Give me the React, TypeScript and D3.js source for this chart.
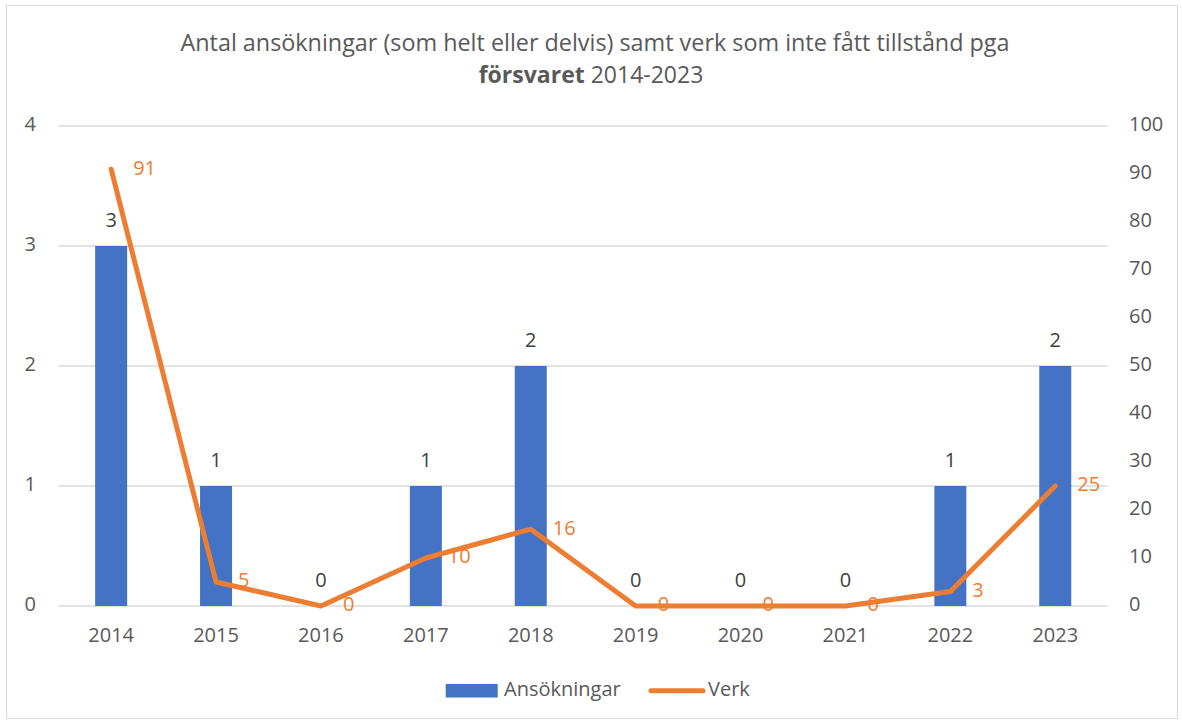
import React from "react";
import * as d3 from "d3";

const years = ["2014", "2015", "2016", "2017", "2018", "2019", "2020", "2021", "2022", "2023"];
const ansokningar = [3, 1, 0, 1, 2, 0, 0, 0, 1, 2];
const verk = [91, 5, 0, 10, 16, 0, 0, 0, 3, 25];
const leftTicks = [0, 1, 2, 3, 4];
const rightTicks = [0, 10, 20, 30, 40, 50, 60, 70, 80, 90, 100];

const W = 1182;
const H = 724;
const FONT = "'Open Sans', 'Liberation Sans', sans-serif";
const TXT = "#595959";
const BLUE = "#4472C4";
const ORANGE = "#ED7D31";
const FS = 20;

export default function App() {
  const left = 58.7;
  const right = 1107.7;
  const top = 126;
  const bottom = 606;
  const x = d3.scaleBand<string>().domain(years).range([left, right]).paddingInner(0).paddingOuter(0);
  const yL = d3.scaleLinear().domain([0, 4]).range([bottom, top]);
  const yR = d3.scaleLinear().domain([0, 100]).range([bottom, top]);
  const bw = 32;
  const cx = (y: string) => (x(y) as number) + x.bandwidth() / 2;
  const line = d3
    .line<number>()
    .x((_, i) => cx(years[i]))
    .y((d) => yR(d));

  return (
    <div style={{ position: "absolute", left: 0, top: 0 }}>
      <svg width={W} height={H} style={{ display: "block", background: "#fff" }} fontFamily={FONT}>
        <rect x={6.5} y={5.5} width={1171} height={713} fill="#fff" stroke="#d9d9d9" strokeWidth={1} />
        <text x={595} y={45} textAnchor="middle" dominantBaseline="middle" fontSize={23} fill={TXT} textLength={829} lengthAdjust="spacingAndGlyphs">
          Antal ansökningar (som helt eller delvis) samt verk som inte fått tillstånd pga
        </text>
        <text x={591} y={77} textAnchor="middle" dominantBaseline="middle" fontSize={23} fill={TXT}>
          <tspan fontWeight="bold">försvaret</tspan> 2014-2023
        </text>
        {leftTicks.map((t) => (
          <g key={"l" + t}>
            <line x1={left} x2={right} y1={yL(t)} y2={yL(t)} stroke="#d9d9d9" strokeWidth={1.5} />
            <text x={36} y={yL(t)} textAnchor="end" dominantBaseline="middle" fontSize={FS} fill={TXT}>
              {t}
            </text>
          </g>
        ))}
        {rightTicks.map((t) => (
          <text key={"r" + t} x={1129} y={yR(t)} textAnchor="start" dominantBaseline="middle" fontSize={FS} fill={TXT}>
            {t}
          </text>
        ))}
        {years.map((yr) => (
          <text key={"x" + yr} x={cx(yr)} y={637} textAnchor="middle" dominantBaseline="middle" fontSize={FS} fill={TXT}>
            {yr}
          </text>
        ))}
        {ansokningar.map((v, i) => (
          <g key={"b" + i}>
            <rect x={cx(years[i]) - bw / 2} y={yL(v)} width={bw} height={bottom - yL(v)} fill={BLUE} />
            <text x={cx(years[i])} y={yL(v) - 24} textAnchor="middle" dominantBaseline="middle" fontSize={FS} fill="#404040">
              {v}
            </text>
          </g>
        ))}
        {verk.map((v, i) => (
          <text key={"v" + i} x={cx(years[i]) + 22} y={yR(v)} textAnchor="start" dominantBaseline="middle" fontSize={FS} fill={ORANGE}>
            {v}
          </text>
        ))}
        <path d={line(verk) || ""} fill="none" stroke={ORANGE} strokeWidth={5} strokeLinecap="round" strokeLinejoin="round" />
        <rect x={445.7} y={684} width={52} height={13.5} fill={BLUE} />
        <text x={504} y={691} dominantBaseline="middle" fontSize={FS} fill={TXT}>
          Ansökningar
        </text>
        <line x1={651} x2={703} y1={690.7} y2={690.7} stroke={ORANGE} strokeWidth={5} strokeLinecap="round" />
        <text x={708} y={691} dominantBaseline="middle" fontSize={FS} fill={TXT}>
          Verk
        </text>
      </svg>
    </div>
  );
}
